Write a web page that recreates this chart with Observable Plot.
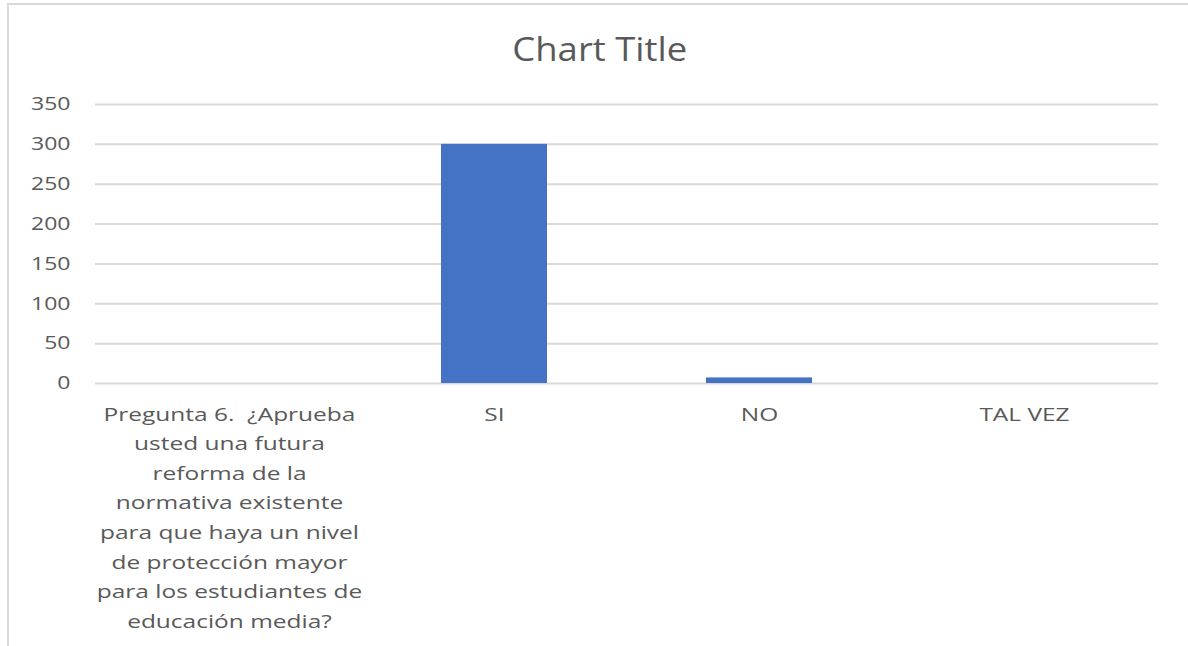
<!DOCTYPE html>
<html>
<head>
<meta charset="utf-8">
<script src="https://cdn.jsdelivr.net/npm/d3@7"></script>
<script src="https://cdn.jsdelivr.net/npm/@observablehq/plot@0.6"></script>
<style>
  html, body { margin: 0; padding: 0; background: #fff; overflow: hidden; width: 1188px; height: 646px; }
  #frame { position: absolute; left: 7px; top: 3px; width: 1300px; height: 800px; border: 2px solid #d9d9d9; }
  #title { position: absolute; left: 6px; width: 1188px; top: 27px; text-align: center; font-family: "Open Sans", sans-serif; font-size: 32px; line-height: normal; color: #595959; }
  #title span { display: inline-block; transform: scaleX(1.14); }
  #chart { position: absolute; left: 0; top: 0; }
</style>
</head>
<body>
<div id="frame"></div>
<div id="title"><span>Chart Title</span></div>
<div id="chart"></div>
<script>
const categories = [
  "Pregunta 6.  ¿Aprueba\nusted una futura\nreforma de la\nnormativa existente\npara que haya un nivel\nde protección mayor\npara los estudiantes de\neducación media?",
  "SI",
  "NO",
  "TAL VEZ"
];
const values = [0, 300, 7, 0];
const yTicks = [0, 50, 100, 150, 200, 250, 300, 350];

const data = categories.map((c, i) => ({category: c, value: values[i]}));
const font = "'Open Sans', sans-serif";

const plot = Plot.plot({
  width: 1188,
  height: 646,
  marginLeft: 95,
  marginRight: 30,
  marginTop: 104,
  marginBottom: 263,
  style: {fontFamily: font, fontSize: "18px", color: "#595959", background: "transparent"},
  x: {domain: categories, paddingInner: 0.6, paddingOuter: 0.3, label: null},
  y: {domain: [0, 350], label: null},
  marks: [
    Plot.gridY(yTicks, {stroke: "#d9d9d9", strokeOpacity: 1, strokeWidth: 2}),
    Plot.barY(data, {x: "category", y: "value", fill: "#4472c4"}),
    Plot.axisY(yTicks, {tickSize: 0, tickPadding: 25, fill: "#595959", fontSize: 18, label: null}),
    Plot.axisX({tickSize: 0, tickPadding: 0, fill: "#595959", fontSize: 18, label: null, lineHeight: 1.645, lineAnchor: "top", dy: 16})
  ]
});

// widen axis glyphs horizontally around their anchor to mimic the reference typeface
function stretch(selector, s) {
  plot.querySelectorAll(selector).forEach(el => {
    if (el.hasAttribute("x")) el.setAttribute("x", +el.getAttribute("x") / s);
    const t = el.getAttribute("transform") || "";
    el.setAttribute("transform", (t + ` scale(${s},1)`).trim());
  });
}
stretch('g[aria-label="x-axis tick label"] text', 1.36);
stretch('g[aria-label="y-axis tick label"] text', 1.28);

document.getElementById("chart").appendChild(plot);
</script>
</body>
</html>
